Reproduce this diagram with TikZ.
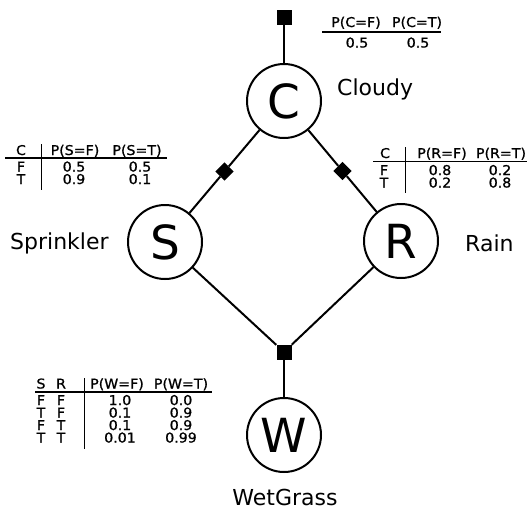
\documentclass[tikz,border=0pt]{standalone}
\usepackage{fontspec}
\setmainfont{DejaVu Sans}
\newfontfamily\tabfont[FakeStretch=1.05,FakeBold=1]{DejaVu Sans}
\usetikzlibrary{calc}
\begin{document}
\begin{tikzpicture}[x=1pt,y=-1pt,
  var/.style={circle,draw,line width=2pt,minimum size=74pt,inner sep=0pt,font=\fontsize{47}{47}\selectfont},
  fsq/.style={rectangle,fill=black,minimum size=15pt,inner sep=0pt},
  fdia/.style={rectangle,fill=black,minimum size=13pt,inner sep=0pt,rotate=45},
  edge/.style={line width=2pt},
  lab/.style={font=\fontsize{22}{22}\selectfont,inner sep=0pt},
  tb/.style={font=\tabfont\fontsize{13.5}{13.5}\selectfont,inner sep=0pt,anchor=base},
  rule/.style={line width=1.3pt},
  vbar/.style={line width=0.9pt}]
\useasboundingbox (0,0) rectangle (530,512);
% variable nodes
\node[var] (C) at (284,101) {C};
\node[var] (S) at (165,242) {S};
\node[var] (R) at (401,241) {R};
\node[var] (W) at (284,435) {W};
% factor nodes
\node[fsq] (fC) at (284,17) {};
\node[fsq] (fW) at (284,352) {};
\node[fdia] (fS) at ($(C)!0.5!(S)$) {};
\node[fdia] (fR) at ($(C)!0.5!(R)$) {};
% edges
\draw[edge] (fC) -- (C);
\draw[edge] (C) -- (fS) -- (S);
\draw[edge] (C) -- (fR) -- (R);
\draw[edge] (S) -- (fW);
\draw[edge] (R) -- (fW);
\draw[edge] (fW) -- (W);
% labels
\node[lab,anchor=base west] (lC) at (337,95) {Cloudy};
\node[lab,anchor=base west] (lS) at (10,249) {Sprinkler};
\node[lab,anchor=base west] (lR) at (465,251) {Rain};
\node[lab,anchor=base] (lW) at (285,505) {WetGrass};
% C table
\node[tb] (cPF) at (356,27) {P(C=F)};
\node[tb] (cPT) at (417,27) {P(C=T)};
\coordinate (cl1) at (322,32); \coordinate (cl2) at (441,32);
\draw[rule] (cl1) -- (cl2);
\node[tb] (cv1) at (357,47.5) {0.5};
\node[tb] (cv2) at (418,47.5) {0.5};
% S table
\node[tb] (sC) at (21,155) {C};
\node[tb] (sPF) at (75,155) {P(S=F)};
\node[tb] (sPT) at (137,155) {P(S=T)};
\coordinate (sl1) at (5,158); \coordinate (sl2) at (167,158);
\draw[rule] (sl1) -- (sl2);
\coordinate (sb1) at (41,144); \coordinate (sb2) at (41,190);
\draw[vbar] (sb1) -- (sb2);
\node[tb] (sF) at (21,171.5) {F};
\node[tb] (sF1) at (74,171.5) {0.5};
\node[tb] (sF2) at (140,171.5) {0.5};
\node[tb] (sT) at (21,184) {T};
\node[tb] (sT1) at (74,184) {0.9};
\node[tb] (sT2) at (140,184) {0.1};
% R table
\node[tb] (rC) at (385,158) {C};
\node[tb] (rPF) at (442,158) {P(R=F)};
\node[tb] (rPT) at (501,158) {P(R=T)};
\coordinate (rl1) at (373,161.5); \coordinate (rl2) at (527,161.5);
\draw[rule] (rl1) -- (rl2);
\coordinate (rb1) at (405,147); \coordinate (rb2) at (405,193);
\draw[vbar] (rb1) -- (rb2);
\node[tb] (rF) at (384,175) {F};
\node[tb] (rF1) at (440,175) {0.8};
\node[tb] (rF2) at (500,175) {0.2};
\node[tb] (rT) at (384,187.5) {T};
\node[tb] (rT1) at (440,187.5) {0.2};
\node[tb] (rT2) at (500,187.5) {0.8};
% W table
\node[tb] (wS) at (41,388.5) {S};
\node[tb] (wR) at (61,388.5) {R};
\node[tb] (wPF) at (117,388.5) {P(W=F)};
\node[tb] (wPT) at (181,388.5) {P(W=T)};
\coordinate (wl1) at (35,392); \coordinate (wl2) at (212,392);
\draw[rule] (wl1) -- (wl2);
\coordinate (wb1) at (84,378); \coordinate (wb2) at (84,449);
\draw[vbar] (wb1) -- (wb2);
\node[tb] (w1a) at (41,405) {F};  \node[tb] (w1b) at (61,405) {F};
\node[tb] (w1c) at (120,405) {1.0}; \node[tb] (w1d) at (181,405) {0.0};
\node[tb] (w2a) at (41,417.5) {T};  \node[tb] (w2b) at (61,417.5) {F};
\node[tb] (w2c) at (120,417.5) {0.1}; \node[tb] (w2d) at (181,417.5) {0.9};
\node[tb] (w3a) at (41,430) {F};  \node[tb] (w3b) at (61,430) {T};
\node[tb] (w3c) at (120,430) {0.1}; \node[tb] (w3d) at (181,430) {0.9};
\node[tb] (w4a) at (41,442.5) {T};  \node[tb] (w4b) at (61,442.5) {T};
\node[tb] (w4c) at (120,442.5) {0.01}; \node[tb] (w4d) at (181,442.5) {0.99};
\end{tikzpicture}
\end{document}
